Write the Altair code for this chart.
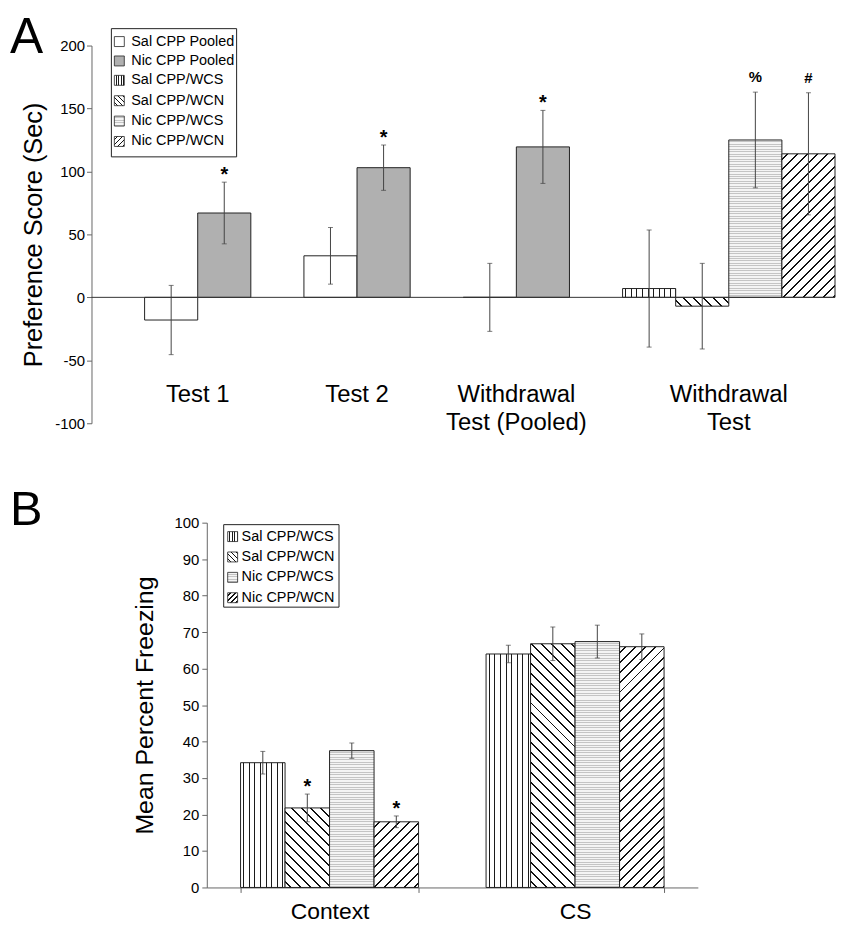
import altair as alt
import pandas as pd

FONT = "Liberation Sans"

# ---------------- Panel A data ----------------
groups_a = ["Test 1", "Test 2", "Withdrawal\nTest (Pooled)", "Withdrawal\nTest"]
series_a = ["Sal CPP Pooled", "Nic CPP Pooled", "Sal CPP/WCS",
            "Sal CPP/WCN", "Nic CPP/WCS", "Nic CPP/WCN"]
a_bar_group = ["Test 1", "Test 1", "Test 2", "Test 2",
               "Withdrawal\nTest (Pooled)", "Withdrawal\nTest (Pooled)",
               "Withdrawal\nTest", "Withdrawal\nTest", "Withdrawal\nTest", "Withdrawal\nTest"]
a_bar_series = ["Sal CPP Pooled", "Nic CPP Pooled", "Sal CPP Pooled", "Nic CPP Pooled",
                "Sal CPP Pooled", "Nic CPP Pooled",
                "Sal CPP/WCS", "Sal CPP/WCN", "Nic CPP/WCS", "Nic CPP/WCN"]
a_values = [-18.0, 67.0, 33.0, 103.0, 0.0, 119.5, 7.0, -7.0, 125.0, 114.0]
a_errors = [27.5, 24.5, 22.5, 18.0, 27.0, 29.0, 46.5, 34.0, 38.0, 48.5]
a_marks = ["", "*", "", "*", "", "*", "", "", "%", "#"]
a_ticks = [-100, -50, 0, 50, 100, 150, 200]

# ---------------- Panel B data ----------------
groups_b = ["Context", "CS"]
series_b = ["Sal CPP/WCS", "Sal CPP/WCN", "Nic CPP/WCS", "Nic CPP/WCN"]
b_values = {"Context": [34.2, 21.8, 37.5, 18.0], "CS": [64.0, 66.8, 67.4, 66.0]}
b_errors = {"Context": [3.1, 3.8, 2.1, 1.6], "CS": [2.4, 4.6, 4.5, 3.5]}
b_marks = {"Context": ["", "*", "", "*"], "CS": ["", "", "", ""]}
b_ticks = list(range(0, 101, 10))

# ---------------- layout constants ----------------
WA, HA = 748, 380
WB, HB = 610, 367
B_LEFT = 116  # plot of panel B starts further right
LINE = "#444"
EDGE = "#222"
GRAY = "#b0b0b0"


# ---------------- pattern fills (gradients) ----------------
def stripe_stops(length, spacing, lw, fg, bg="white"):
    stops = [alt.GradientStop(offset=0, color=bg)]
    pos = spacing / 2.0
    while pos < length:
        a = pos / length
        b = min((pos + lw) / length, 1.0)
        stops += [alt.GradientStop(offset=a, color=bg), alt.GradientStop(offset=a, color=fg),
                  alt.GradientStop(offset=b, color=fg), alt.GradientStop(offset=b, color=bg)]
        pos += spacing
    stops.append(alt.GradientStop(offset=1, color=bg))
    return stops


def fill_for(series, w, h, small=False):
    if series == "Sal CPP Pooled":
        return "white"
    if series == "Nic CPP Pooled":
        return GRAY
    h = max(h, 0.5)
    if series == "Sal CPP/WCS":
        sp = 2.6 if small else 5.6
        return alt.LinearGradient(gradient="linear", x1=0, y1=0, x2=1, y2=0,
                                  stops=stripe_stops(w, sp, 1.0, "#1a1a1a"))
    if series == "Nic CPP/WCS":
        sp = 2.5
        return alt.LinearGradient(gradient="linear", x1=0, y1=0, x2=0, y2=1,
                                  stops=stripe_stops(h, sp, 1.0, "#c4c4c4", "#f4f4f4"))
    k = (w + h) / (w * w + h * h)
    sp = 5.0 if small else 10.0
    lw = 1.5 if small else 2.0
    st = stripe_stops(w + h, sp, lw, "#111")
    if series == "Nic CPP/WCN":   # "/" hatching
        return alt.LinearGradient(gradient="linear", x1=0, y1=0, x2=k * w, y2=k * h, stops=st)
    # "Sal CPP/WCN": "\" hatching
    return alt.LinearGradient(gradient="linear", x1=0, y1=1, x2=k * w, y2=1 - k * h, stops=st)


def legend_layers(entries, box, sw_x, txt_x, ys, size=10):
    one = alt.Data(values=[{}])
    x0, x1, y0, y1 = box
    layers = [alt.Chart(one).mark_rect(fill="white", stroke=EDGE, strokeWidth=1).encode(
        x=alt.value(x0), x2=alt.value(x1), y=alt.value(y0), y2=alt.value(y1))]
    for name, cy in zip(entries, ys):
        layers.append(alt.Chart(one).mark_rect(
            fill=fill_for(name, size, size, small=True), stroke=EDGE, strokeWidth=0.8).encode(
            x=alt.value(sw_x), x2=alt.value(sw_x + size),
            y=alt.value(cy - size / 2), y2=alt.value(cy + size / 2)))
        layers.append(alt.Chart(one).mark_text(
            align="left", baseline="middle", fontSize=14.5, font=FONT, color="black").encode(
            x=alt.value(txt_x), y=alt.value(cy), text=alt.value(name)))
    return layers


# ================= Panel A =================
slots_a = []
for gi, g in enumerate(groups_a):
    slots_a.append("gap%d" % gi)
    for s, grp in zip(a_bar_series, a_bar_group):
        if grp == g:
            slots_a.append(g + "|" + s)

dfA = pd.DataFrame({
    "group": a_bar_group, "series": a_bar_series, "value": a_values,
    "err": a_errors, "mark": a_marks})
dfA["slot"] = dfA["group"] + "|" + dfA["series"]
dfA["lo"] = dfA["value"] - dfA["err"]
dfA["hi"] = dfA["value"] + dfA["err"]

lab_rows = []
for g in groups_a:
    bars = [g + "|" + s for s, grp in zip(a_bar_series, a_bar_group) if grp == g]
    lab_rows.append({"label": g, "anchor": bars[len(bars) // 2 - 1]})
dfLabA = pd.DataFrame(lab_rows)

xsA = alt.Scale(domain=slots_a, paddingInner=0, paddingOuter=0)
ysA = alt.Scale(domain=[-100, 200], nice=False, zero=False)
axA = alt.Axis(values=a_ticks, grid=False, tickSize=5, labelFontSize=15, labelPadding=2,
               labelExpr="'' + datum.value",
               titleFontSize=25.5, titleFontWeight="normal", titlePadding=8,
               domainColor="#666", tickColor="#666", labelColor="black", titleColor="black",
               labelFont=FONT, titleFont=FONT)
TITLE_A = "Preference Score (Sec)"


def xa(field="slot:N", **kw):
    return alt.X(field, scale=xsA, axis=None, **kw)


def ya(field):
    return alt.Y(field, scale=ysA, axis=axA, title=TITLE_A)


wA = WA / len(slots_a)
pxA = HA / 300.0

layersA = []
solid = dfA[dfA["series"].isin(["Sal CPP Pooled", "Nic CPP Pooled"])]
layersA.append(alt.Chart(solid).mark_bar(stroke=EDGE, strokeWidth=1).encode(
    x=xa(), y=ya("value:Q"),
    fill=alt.Fill("series:N", scale=alt.Scale(domain=["Sal CPP Pooled", "Nic CPP Pooled"],
                                              range=["white", GRAY]), legend=None)))
for _, r in dfA[~dfA["series"].isin(["Sal CPP Pooled", "Nic CPP Pooled"])].iterrows():
    layersA.append(alt.Chart(dfA).transform_filter(alt.datum.slot == r["slot"]).mark_bar(
        fill=fill_for(r["series"], wA, abs(r["value"]) * pxA), stroke=EDGE, strokeWidth=1).encode(
        x=xa(), y=ya("value:Q")))

layersA.append(alt.Chart(dfA).mark_rule(color=LINE, strokeWidth=1).encode(
    x=xa(), y=ya("lo:Q"), y2="hi:Q"))
layersA.append(alt.Chart(dfA).mark_tick(orient="horizontal", size=5, thickness=1, color=LINE).encode(
    x=xa(), y=ya("lo:Q")))
layersA.append(alt.Chart(dfA).mark_tick(orient="horizontal", size=5, thickness=1, color=LINE).encode(
    x=xa(), y=ya("hi:Q")))
layersA.append(alt.Chart(dfA).transform_filter(alt.datum.mark == "*").mark_text(
    fontSize=20, fontWeight="bold", baseline="alphabetic", dy=-1, font=FONT, color="black").encode(
    x=xa(), y=ya("hi:Q"), text="mark:N"))
layersA.append(alt.Chart(dfA).transform_filter((alt.datum.mark == "%") | (alt.datum.mark == "#")).mark_text(
    fontSize=15, fontWeight="bold", baseline="alphabetic", dy=-10, font=FONT, color="black").encode(
    x=xa(), y=ya("hi:Q"), text="mark:N"))
layersA.append(alt.Chart(alt.Data(values=[{}])).mark_rule(color="#333", strokeWidth=1).encode(
    y=alt.datum(0, scale=ysA), x=alt.value(0), x2=alt.value(WA)))
layersA.append(alt.Chart(dfLabA).mark_text(
    fontSize=24, lineBreak="\n", lineHeight=28, baseline="alphabetic", align="center",
    font=FONT, color="black").encode(
    x=xa("anchor:N", bandPosition=1), y=alt.value(358.5), text="label:N"))
layersA += legend_layers(series_a, (20, 146, -17, 112), 23, 40, [-4, 15.5, 35, 55.5, 76, 96.5])
layersA.append(alt.Chart(alt.Data(values=[{}])).mark_text(
    fontSize=50, align="left", baseline="alphabetic", font=FONT, color="black").encode(
    x=alt.value(-82), y=alt.value(7), text=alt.value("A")))

chartA = alt.layer(*layersA).properties(width=WA, height=HA)

# ================= Panel B =================
rows = []
for g in groups_b:
    for s, v, e, m in zip(series_b, b_values[g], b_errors[g], b_marks[g]):
        rows.append({"group": g, "series": s, "value": v, "err": e, "mark": m})
dfB = pd.DataFrame(rows)
dfB["lo"] = dfB["value"] - dfB["err"]
dfB["hi"] = dfB["value"] + dfB["err"]

PI, PO = 0.275, 0.1375
xsB = alt.Scale(domain=groups_b, range=[B_LEFT, WB], paddingInner=PI, paddingOuter=PO)
axXB = alt.Axis(title=None, labelAngle=0, labelFontSize=23, labelPadding=8, tickSize=5,
                tickBand="extent", domainColor="#666", tickColor="#666", labelColor="black",
                labelFont=FONT)
ysB = alt.Scale(domain=[0, 100], nice=False)
axYB = alt.Axis(values=b_ticks, grid=False, tickSize=5, labelFontSize=15, labelPadding=3,
                offset=-B_LEFT, titleFontSize=25, titleFontWeight="normal", titlePadding=17,
                domainColor="#666", tickColor="#666", labelColor="black", titleColor="black",
                labelFont=FONT, titleFont=FONT)
TITLE_B = "Mean Percent Freezing"
xoB = alt.XOffset("series:N", scale=alt.Scale(domain=series_b, paddingInner=0, paddingOuter=0))


def xb():
    return alt.X("group:N", scale=xsB, axis=axXB)


def yb(field):
    return alt.Y(field, scale=ysB, axis=axYB, title=TITLE_B)


stepB = (WB - B_LEFT) / (len(groups_b) - PI + 2 * PO)
wB = stepB * (1 - PI) / len(series_b)
pxB = HB / 100.0

layersB = []
for _, r in dfB.iterrows():
    layersB.append(alt.Chart(dfB).transform_filter(
        (alt.datum.group == r["group"]) & (alt.datum.series == r["series"])).mark_bar(
        fill=fill_for(r["series"], wB, r["value"] * pxB), stroke=EDGE, strokeWidth=1).encode(
        x=xb(), xOffset=xoB, y=yb("value:Q")))
layersB.append(alt.Chart(dfB).mark_rule(color=LINE, strokeWidth=1).encode(
    x=xb(), xOffset=xoB, y=yb("lo:Q"), y2="hi:Q"))
layersB.append(alt.Chart(dfB).mark_tick(orient="horizontal", size=5, thickness=1, color=LINE).encode(
    x=xb(), xOffset=xoB, y=yb("lo:Q")))
layersB.append(alt.Chart(dfB).mark_tick(orient="horizontal", size=5, thickness=1, color=LINE).encode(
    x=xb(), xOffset=xoB, y=yb("hi:Q")))
layersB.append(alt.Chart(dfB).transform_filter(alt.datum.mark == "*").mark_text(
    fontSize=20, fontWeight="bold", baseline="alphabetic", dy=-1, font=FONT, color="black").encode(
    x=xb(), xOffset=xoB, y=yb("hi:Q"), text="mark:N"))
layersB += legend_layers(series_b, (133, 249, 2, 85), 137, 151, [14, 34.5, 55, 75.5])
layersB.append(alt.Chart(alt.Data(values=[{}])).mark_text(
    fontSize=49, align="left", baseline="alphabetic", font=FONT, color="black").encode(
    x=alt.value(-82), y=alt.value(2), text=alt.value("B")))

chartB = alt.layer(*layersB).properties(width=WB, height=HB)

chart = alt.vconcat(chartA, chartB, spacing=51).properties(
    padding={"left": 2, "top": 2, "right": 0, "bottom": 0}
).configure_view(stroke=None).configure_text(font=FONT)

chart.save("out.html", embed_options={"renderer": "svg", "actions": False})
